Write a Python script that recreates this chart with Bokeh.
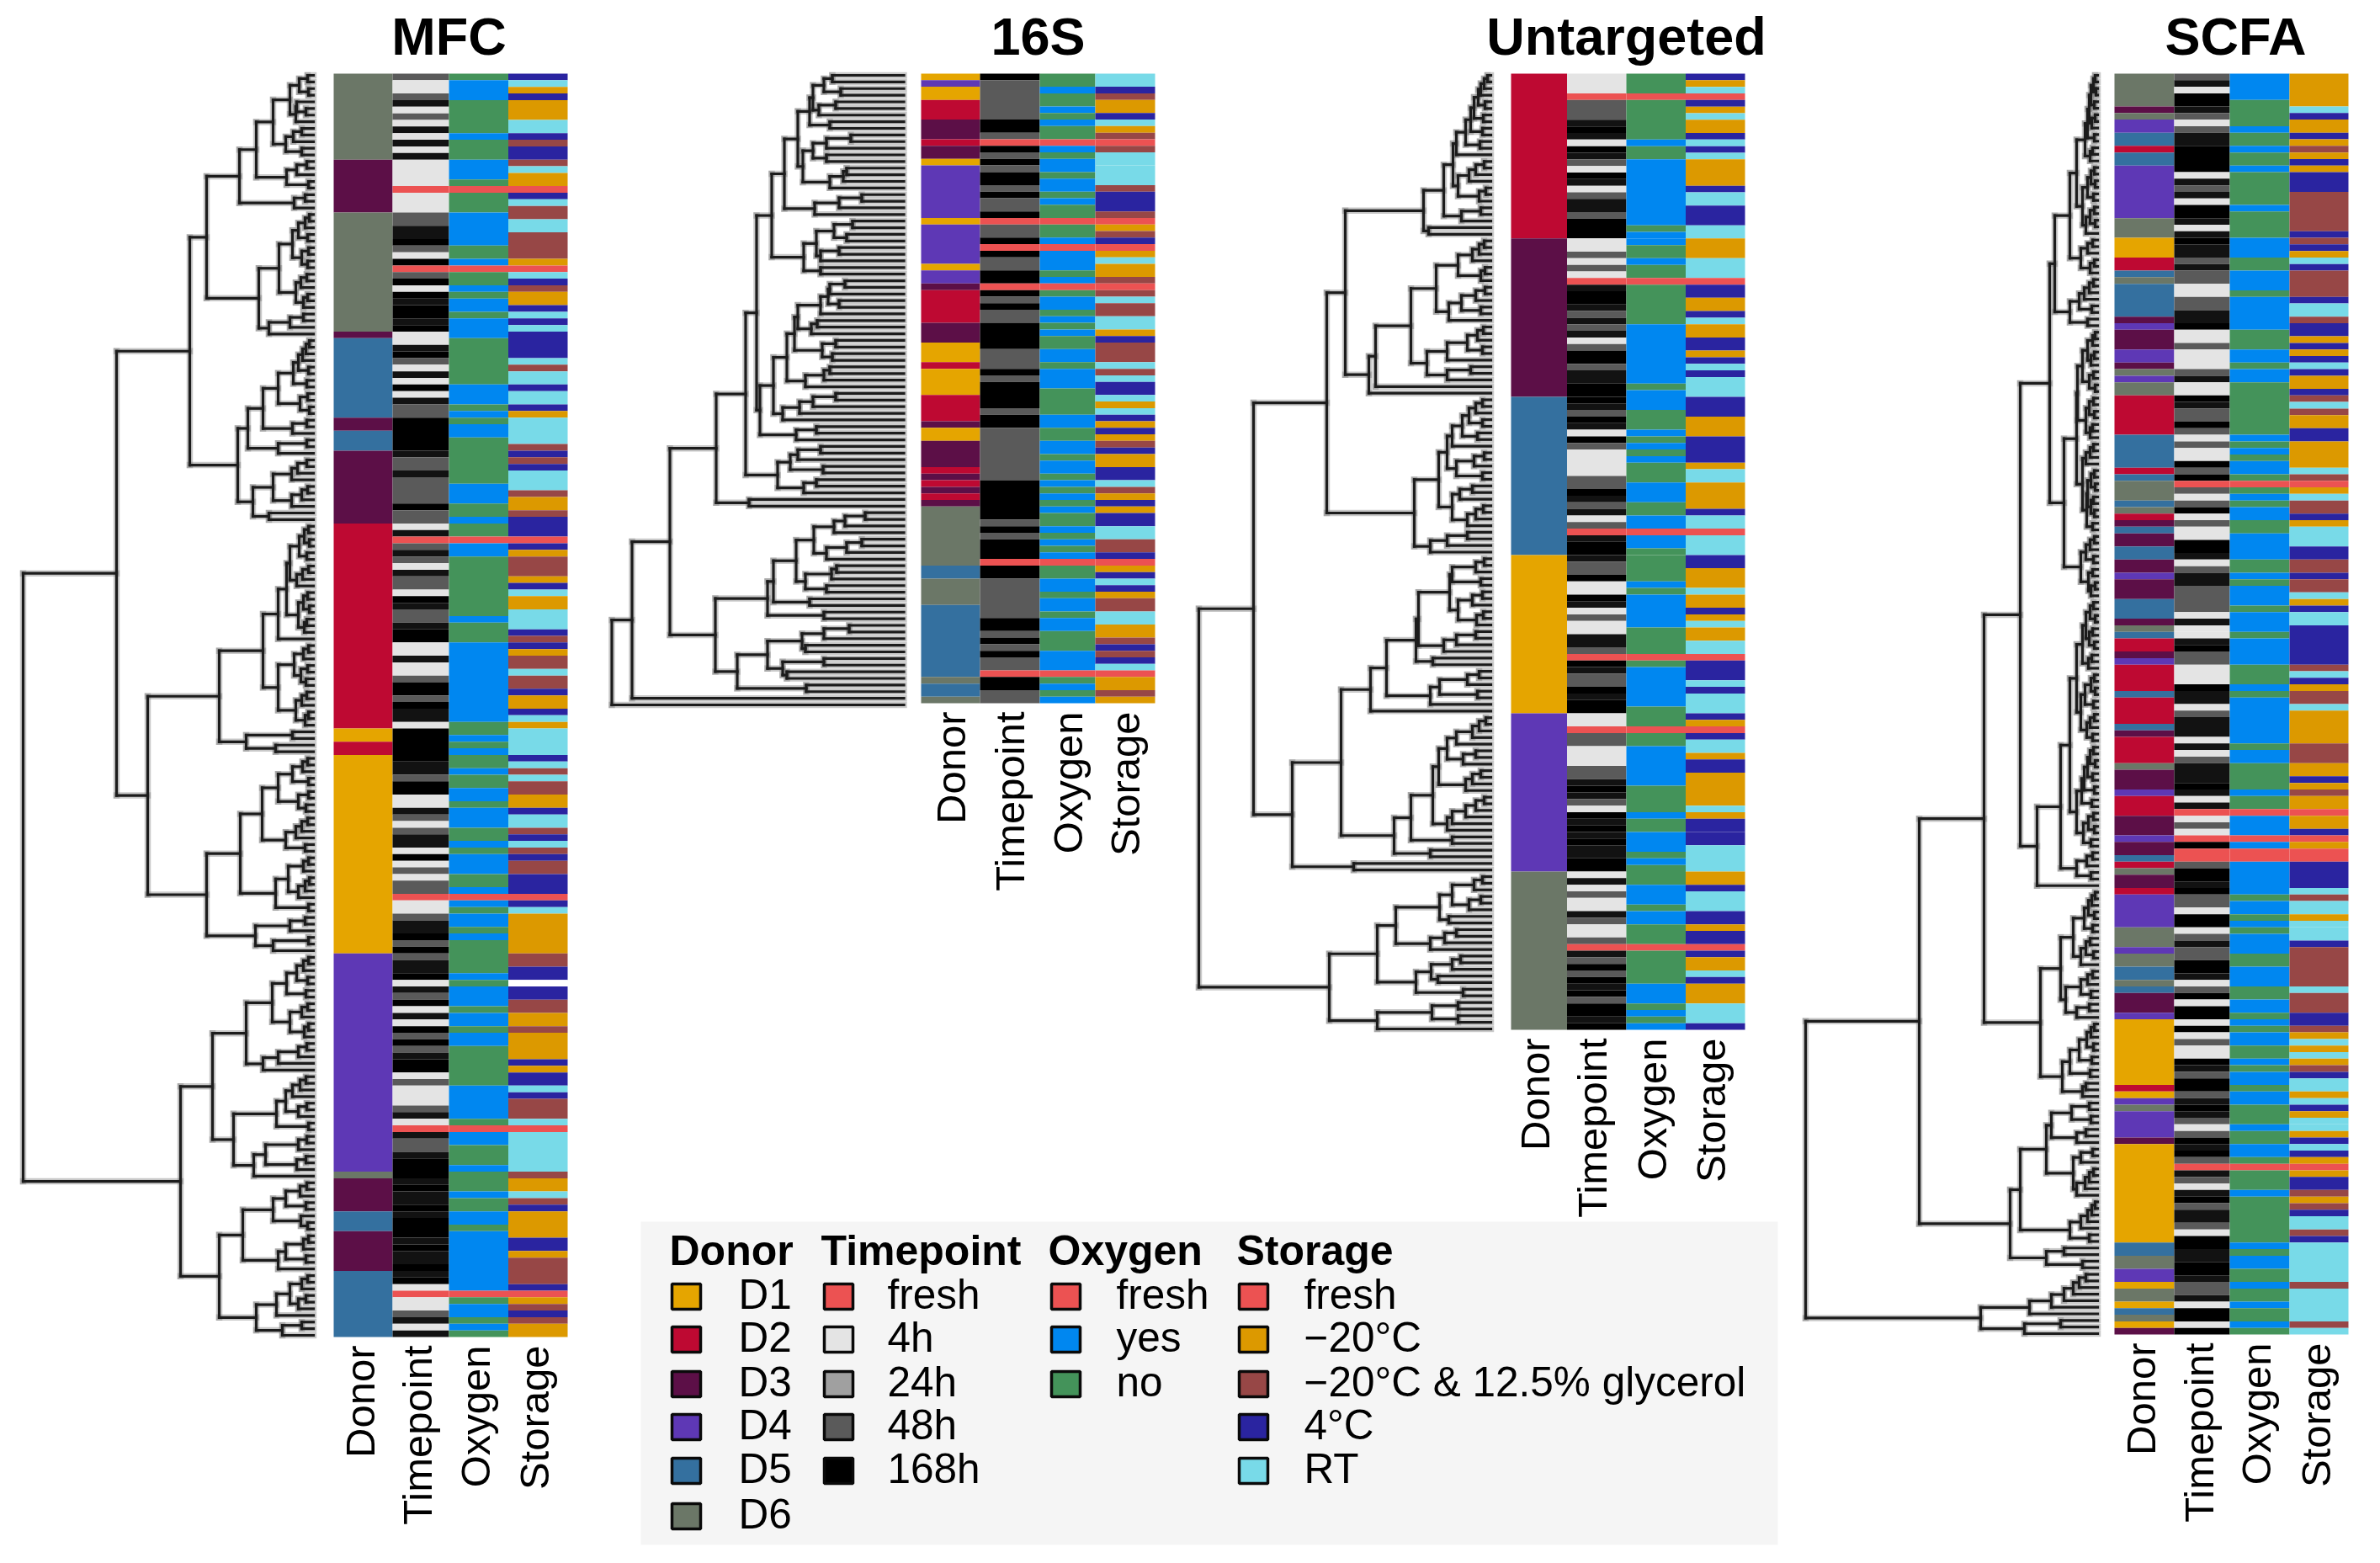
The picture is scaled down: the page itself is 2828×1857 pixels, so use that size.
from math import pi
from bokeh.plotting import figure
from bokeh.models import ColumnDataSource, Range1d
from bokeh.core.properties import value
from bokeh.embed import file_html
from bokeh.resources import INLINE

# ---------- categories ----------
donor_labels = ["D1", "D2", "D3", "D4", "D5", "D6"]
timepoint_labels = ["fresh", "4h", "24h", "48h", "168h"]
oxygen_labels = ["fresh", "yes", "no"]
storage_labels = ["fresh", "\u221220\u00b0C", "\u221220\u00b0C & 12.5% glycerol", "4\u00b0C", "RT"]
track_labels = ["Donor", "Timepoint", "Oxygen", "Storage"]

# ---------- MFC ----------
mfc_donor = "6:13 3:8 6:18 3:1 5:12 3:2 5:3 3:11 2:31 1:2 2:2 1:30 4:33 6:1 3:5 5:3 3:6 5:10"
mfc_time = ("b a2 b c a b a c a c a c a4 f a3 b2 c2 d b a d f b d a d c d2 c d a2 c d b a c a d a c b2 d5 c b2 c b4 d b2 "
            "a c f b c b a c b2 a d c b2 c d2 a2 c a2 b d2 b d c2 a d5 c2 b d2 a2 c b a b c2 a d a b a b2 f a2 b c2 d b d "
            "b c2 d a c b d a c a d b d b c d2 a b a3 b c a f c b2 c d3 c d c2 d c d3 c d c2 d c d a f a2 b c a c")
mfc_oxygen = ("n y3 n5 y n3 y3 n f n3 y5 n2 y f n2 y n y2 n y3 n7 y3 n y n y2 n7 y3 n2 y n2 f y2 n9 y n3 y12 n2 y n y "
              "n2 y n2 y2 n y3 n2 y n y3 n2 y f y n y2 n y n5 y n y3 n y2 n y2 n6 y5 n f y2 n3 y n3 y n2 y2 n y9 f n y2 n y n")
mfc_storage = ("c r a c a3 r2 c g c2 g r a2 f c r g2 r2 g4 a f r c g a2 c r c r c4 r g r2 c r2 c a r4 g c g c r3 g a2 g c "
               "c2 f c a g3 a c r a2 r3 c g c a g2 r g2 c a2 c r a r4 c r g r g2 a2 c r2 g c r g c g2 c3 f c r a6 g2 c2 w c2 g2 "
               "a2 g a4 c a c2 r c g3 r f r6 g a2 r g c a4 c2 a g4 c f a g c g a2")
mfc_heights = [7,17,6,28,20,9,21,48,14,24,33,14,68,8,20,32,6,88,10,23,127,
               5,10,18,7,25,6,14,7,41,8,15,21,7,12,65,12,28,53,147,
               5,9,13,18,6,24,8,42,7,16,5,60,8,25,78,8,42,90,8,19,26,48,7,14,26,72,53,234,
               6,11,5,17,8,28,6,13,20,32,7,12,5,18,8,11,42,60,6,12,23,7,15,9,42,8,14,21,6,10,112,25,80,45,197,
               7,13,25,6,42,6,18,9,61,7,14,21,33,10,87,6,12,30,5,10,18,45,6,127,10,28,69,6,48,345,
               6,12,20,7,32,9,49,7,14,28,6,11,80,8,18,42,60,120,
               9,16,25,33,8,18,44,6,95,8,18,57,9,20,71,158,
               8,16,33,9,48,15,7,84,6,12,33,9,42,112,7,14,28,9,18,44,68,14,37]

# ---------- 16S ----------
s16_donor = ("1:1 4:1 1:2 2:3 3:3 2:1 3:2 1:1 4:8 1:1 4:6 1:1 4:2 3:1 2:5 3:3 1:3 2:1 1:4 2:4 3:1 1:2 3:4 2:1 3:1 2:1 3:1 2:1 3:1 "
             "6:9 5:2 6:4 5:11 6:1 5:2 6:1")
s16_time = ("d b6 d2 b f d b d b d2 b d b2 d f b2 d f d b2 d2 f d b d b2 d4 b3 d b d4 b d2 b8 d6 "
            "b d b d3 f d2 b6 d2 b d b d b2 f d2 b2")
s16_oxygen = ("n2 y n2 y n y n2 f y n y2 n y2 n y n2 f n2 y f y3 n y f n y2 n y n y n2 y2 n y3 n4 y2 n2 y2 n y2 n y n y n y "
              "n2 y n y n y f n2 y2 n y2 n y2 n3 y3 f n y n y")
s16_storage = ("r2 c g a2 c r a g f g r2 r3 g c3 g f a g c f a r a2 g f g r g2 r2 a c g3 r g r c2 r a r c a c a g c a2 c2 r g a c a "
               "c2 r2 g2 c f a c r c a g2 r2 a2 g c g c r f a2 g a")
s16_heights = [85,95,75,108,81,101,112,88,126,63,92,108,92,120,68,72,88,142,50,77,106,157,61,83,68,104,77,99,119,99,175,
               70,88,90,77,99,126,103,110,130,81,97,85,139,88,95,117,155,81,108,124,144,171,104,128,188,
               99,126,135,96,150,104,119,223,184,278,46,70,83,107,50,68,92,128,80,86,117,92,155,112,162,95,224,
               65,95,121,117,162,95,144,139,198,116,323,347]

# ---------- Untargeted ----------
unt_donor = "2:25 3:24 5:24 1:24 4:24 6:24"
unt_time = ("a3 f b3 c d c a d c b a d c a b c2 b d3 a2 b a b a f c d2 c b c b c a b d2 b c2 d2 "
            "d c b d c a d b a4 b2 d c b c a b f c d2 c b2 d a2 d c a b a2 c2 b f d c b2 d c d2 "
            "a2 f b2 a3 b2 c d c b a d c d c d c2 d2 a c a b a2 c b a2 b f c b d b d c d b d2 c d")
unt_oxygen = ("n3 f n6 y n2 y10 n y y n2 y n2 f n6 y9 n y3 n3 y n y n y n3 y3 n2 y2 f y2 n n4 y n y5 n4 f n y6 "
              "n3 f n2 y6 n4 y n2 y3 n y n3 y3 n y2 n3 f n5 y3 n y n y")
unt_storage = ("c a r f c a r a2 c r c r a4 c r2 c3 r2 a3 r3 f c2 a2 c r a2 c2 a c r c r3 c3 a3 c4 a r2 a4 c r2 f r3 "
               "c2 a3 r a2 c a r a2 r2 f c3 r c r3 c a f c r2 a c2 a5 r a c2 c2 r4 a2 c r3 c2 a c2 f c a2 r c a3 r3 c")
unt_heights = [4,8,12,15,7,20,9,24,10,30,13,41,45,8,18,26,39,6,14,56,12,35,80,74,173,
               8,14,22,39,7,12,65,7,18,35,12,50,95,9,16,28,10,52,76,24,52,137,145,195,
               10,18,26,10,34,16,46,52,8,20,41,10,62,22,37,46,9,18,28,91,28,52,72,282,
               8,18,46,12,49,10,22,39,9,17,86,18,41,56,89,69,124,14,28,61,16,72,143,178,
               6,14,22,41,52,18,33,62,12,22,30,69,8,18,30,46,52,95,46,115,72,236,163,347,
               10,20,46,12,26,61,50,113,41,55,72,135,36,46,71,63,89,33,192,39,70,39,135]

# ---------- SCFA ----------
scfa_donor = ("6:5 3 6 4:2 5:2 2 5:2 4:8 6:3 1:3 2:2 5 6 5:5 3 4 3:3 4:2 3 6 4 6:2 2:6 5:5 2 5 6:3 "
              "5 6 2 3 5 3:2 5:2 3:2 4 3:3 5:3 3 6 5 2:2 3 4 2:4 5 2:4 5 3 2:4 6 3:3 4 2:3 3:3 4 3:2 5 2 6 3:2 2 4:5 "
              "6:3 4 6:2 5:2 6 5 3:3 4 1:10 2 1 4 6 4:4 3 1:15 5:2 6:2 4:2 1 6:2 1 5 6 1 3")
scfa_time = ("b c a d2 c b a b c2 d4 a c b c a d2 c a c d c2 b c b2 a2 b2 c2 d a2 b a3 b c a2 d c b2 d b a b a2 d b d f b a "
             "b d a b a2 d2 c a b c2 b4 a c a a c d b2 a3 d c2 a b c3 a c a b c3 d c a c f a b a f d f2 b d2 c d b2 a d2 "
             "a b c b2 d2 c a b d a d2 a d a b a2 d c b d2 b c d c b a b d c d b f c b a c d b c c b a d2 c2 d2 c b2 c a d2 a d")
scfa_oxygen = ("y4 n4 y n2 y n2 y n5 y n4 y3 n2 y3 n y5 n3 y2 n y2 n8 y n y n y2 n f n y "
               "n y2 n2 y4 n2 y n y3 n y3 n y4 n3 y n y7 n y2 n4 y n2 f y3 f y f2 y5 n y2 n y "
               "n y3 n2 y3 n2 y2 n y n y2 n2 y n y2 n y2 n3 y n2 y2 n f n3 y n7 y n y2 n2 y n2 y n2 y n")
scfa_storage = ("a5 r c a2 c a g a c a c3 g6 c g c a r c g4 c r2 g c2 a c a c r c a2 c g r g a2 c2 a4 r g f a r "
                "g2 c a r3 c2 g2 c g2 r a c r2 c6 g r c a g2 r a5 g3 a2 c a g a2 f a2 c f a f2 c4 r g r2 a r "
                "r2 c g6 r g3 c2 g a r a r a g c r2 a r c a r r a c r c a f a c2 g a g c r2 g c r6 g r5 g r")
scfa_heights = [3,5,2,8,4,10,3,7,12,4,15,6,9,25,4,8,3,12,5,18,4,9,3,14,33,6,12,20,4,9,51,5,10,16,22,7,33,12,57,
                3,6,12,4,8,18,5,10,3,24,5,10,4,14,6,9,25,5,9,14,18,4,8,3,12,5,8,4,13,6,40,4,9,14,5,20,6,11,3,8,92,
                5,9,3,14,6,10,4,18,7,11,25,4,8,3,15,5,20,4,9,13,6,33,5,9,3,12,6,16,4,19,7,25,5,11,4,17,8,44,6,13,25,8,72,135,
                3,7,11,4,16,6,29,9,14,5,20,44,6,12,20,8,38,10,25,68,4,8,13,5,22,7,33,9,42,14,18,212,
                10,31,8,55,14,25,61,6,20,29,5,10,15,25,92,3,7,12,20,33,10,104,40,61,18,347,
                14,22,29,40,55,81,139,44,87]

# ---------- colours ----------
donor_colors = {"1": "#E5A500", "2": "#BE0932", "3": "#5C0F47", "4": "#5E38B5", "5": "#34709F", "6": "#6B7767"}
time_colors = {"f": "#EC5252", "a": "#E4E4E4", "b": "#5A5A5A", "c": "#121212", "d": "#000000"}
oxygen_colors = {"f": "#EC5252", "y": "#0087F0", "n": "#44935A"}
storage_colors = {"f": "#EC5252", "a": "#DC9900", "g": "#974746", "c": "#2A24A0", "r": "#78DAE8", "w": "#FFFFFF"}
legend_time_colors = ["#EC5252", "#E4E4E4", "#A0A0A0", "#5A5A5A", "#000000"]
legend_oxygen_colors = ["#EC5252", "#0087F0", "#44935A"]
legend_storage_colors = ["#EC5252", "#DC9900", "#974746", "#2A24A0", "#78DAE8"]
legend_donor_colors = [donor_colors[k] for k in "123456"]

# ---------- layout ----------
panels = [
    dict(title="MFC", tracks=(mfc_donor, mfc_time, mfc_oxygen, mfc_storage), heights=mfc_heights, label_dx=-4,
         cols=[396, 466, 533, 603.5, 674], top=87, bottom=1588, leaf_x=372, leaf_top=89, leaf_bottom=1586, title_x=533),
    dict(title="16S", tracks=(s16_donor, s16_time, s16_oxygen, s16_storage), heights=s16_heights, label_dx=0,
         cols=[1094, 1164, 1235, 1301, 1372], top=87, bottom=835, leaf_x=1073.5, leaf_top=89, leaf_bottom=837, title_x=1233),
    dict(title="Untargeted", tracks=(unt_donor, unt_time, unt_oxygen, unt_storage), heights=unt_heights, label_dx=-5,
         cols=[1795, 1861.5, 1932, 2002.5, 2073], top=87, bottom=1223, leaf_x=1771, leaf_top=89, leaf_bottom=1222, title_x=1932),
    dict(title="SCFA", tracks=(scfa_donor, scfa_time, scfa_oxygen, scfa_storage), heights=scfa_heights, label_dx=-4,
         cols=[2512, 2583, 2649, 2720, 2790], top=87, bottom=1585, leaf_x=2492, leaf_top=89, leaf_bottom=1584, title_x=2656),
]
W, H = 2820, 1850


def runs(spec):
    out = []
    for tok in spec.split():
        rest = tok[1:].lstrip(":")
        out.append((tok[0], int(rest) if rest else 1))
    return out


def dendro(gaps, n, leaf_x, ltop, lbot):
    xs0, ys0, xs1, ys1 = [], [], [], []
    step = (lbot - ltop) / (n - 1)

    def build(lo, hi):
        if lo == hi:
            return 0.0, ltop + lo * step
        k = max(range(lo, hi), key=lambda i: gaps[i])
        h = gaps[k]
        h1, y1 = build(lo, k)
        h2, y2 = build(k + 1, hi)
        x = leaf_x - h
        xs0.extend([x, x, x])
        ys0.extend([y1, y1, y2])
        xs1.extend([x, leaf_x - h1, leaf_x - h2])
        ys1.extend([y2, y1, y2])
        return h, (y1 + y2) / 2

    build(0, n - 1)
    return dict(x0=xs0, y0=ys0, x1=xs1, y1=ys1)


# the page written by file_html has no body margin, so data units equal page pixels
p = figure(width=W, height=H, x_range=Range1d(0, W), y_range=Range1d(H, 0),
           x_axis_type=None, y_axis_type=None, toolbar_location=None, output_backend="svg",
           min_border=0, outline_line_color=None, background_fill_color="white")
p.grid.visible = False

# legend panel
p.quad(left=[761], right=[2112], top=[1451], bottom=[1835], fill_color="#F5F5F5", line_color=None)

track_palettes = [donor_colors, time_colors, oxygen_colors, storage_colors]
for panel in panels:
    cols = panel["cols"]
    n = sum(c for _, c in runs(panel["tracks"][0]))
    rh = (panel["bottom"] - panel["top"]) / n
    L, R, T, B, C = [], [], [], [], []
    for t, spec in enumerate(panel["tracks"]):
        i = 0
        for code, cnt in runs(spec):
            L.append(cols[t]); R.append(cols[t + 1])
            T.append(panel["top"] + i * rh); B.append(panel["top"] + (i + cnt) * rh)
            C.append(track_palettes[t][code])
            i += cnt
    p.quad(left="l", right="r", top="t", bottom="b", fill_color="c", line_color=None,
           source=ColumnDataSource(dict(l=L, r=R, t=T, b=B, c=C)))
    seg = dendro(panel["heights"], n, panel["leaf_x"], panel["leaf_top"], panel["leaf_bottom"])
    src = ColumnDataSource(seg)
    p.segment(x0="x0", y0="y0", x1="x1", y1="y1", line_color="#777777", line_alpha=0.4, line_width=7.5,
              line_cap="square", source=src)
    p.segment(x0="x0", y0="y0", x1="x1", y1="y1", line_color="#1c1c1c", line_width=3.2, line_cap="square",
              source=src)
    p.text(x=[panel["title_x"]], y=[42], text=[panel["title"]], text_font=value("Liberation Sans"),
           text_font_style="bold", text_font_size=value("63px"), text_align="center", text_baseline="middle",
           text_color="#000000")
    p.text(x=[(cols[i] + cols[i + 1]) / 2 + panel["label_dx"] for i in range(4)], y=[panel["bottom"] + 10] * 4,
           text=track_labels, angle=pi / 2, text_font=value("Liberation Sans"), text_font_size=value("49px"),
           text_align="right", text_baseline="middle", text_color="#000000")

# legend
legend_rows = [1540, 1591, 1644, 1695, 1747, 1801]
groups = [("Donor", donor_labels, legend_donor_colors, 795, 796, 877),
          ("Timepoint", timepoint_labels, legend_time_colors, 975, 977, 1054),
          ("Oxygen", oxygen_labels, legend_oxygen_colors, 1245, 1247, 1326),
          ("Storage", storage_labels, legend_storage_colors, 1469, 1470, 1549)]
for title, labels, colors, tx, kx, lx in groups:
    p.text(x=[tx], y=[1485], text=[title], text_font=value("Liberation Sans"), text_font_style="bold",
           text_font_size=value("50px"), text_align="left", text_baseline="middle", text_color="#000000")
    ys = legend_rows[:len(labels)]
    p.quad(left=[kx + 2] * len(ys), right=[kx + 36] * len(ys), top=[y - 15 for y in ys], bottom=[y + 15 for y in ys],
           fill_color=colors, line_color="#0a0a0a", line_width=3.5)
    p.text(x=[lx] * len(ys), y=[y - 3 for y in ys], text=labels, text_font=value("Liberation Sans"),
           text_font_size=value("49.5px"), text_align="left", text_baseline="middle", text_color="#000000")

open("out.html", "w").write(file_html(p, INLINE))
